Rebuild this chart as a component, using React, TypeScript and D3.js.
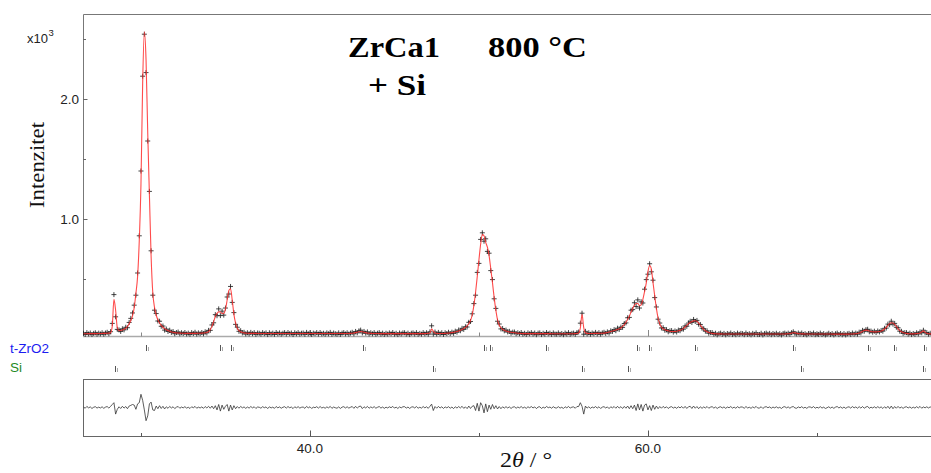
import React from "react";
import * as d3 from "d3";

// Powder pattern on a uniform 2θ grid (start + step), intensities in counts
const twoThetaStart = 26.6;
const twoThetaStep = 0.1;

// calculated profile (red line), one value per 0.1° starting at 26.6°
const yCalc: number[] = [
  44, 44, 44, 45, 45, 45, 45, 45, 45, 46,
  46, 46, 47, 47, 48, 49, 52, 105, 330, 240,
  95, 70, 71, 75, 81, 90, 104, 126, 154, 192,
  262, 380, 520, 820, 1290, 2130, 2560, 2330, 1720, 1200,
  690, 385, 265, 200, 160, 133, 114, 98, 86, 77,
  70, 64, 59, 56, 53, 51, 50, 49, 48, 48,
  47, 47, 47, 47, 47, 47, 47, 47, 48, 48,
  49, 50, 52, 55, 62, 78, 105, 145, 188, 214,
  226, 225, 212, 214, 248, 325, 405, 418, 325, 205,
  132, 90, 70, 60, 54, 51, 49, 48, 47, 47,
  47, 47, 47, 46, 46, 46, 46, 46, 46, 46,
  46, 46, 46, 46, 46, 46, 46, 46, 46, 46,
  46, 46, 46, 46, 46, 46, 46, 46, 46, 46,
  46, 46, 46, 46, 46, 46, 46, 46, 46, 46,
  46, 46, 46, 46, 46, 46, 46, 46, 46, 46,
  46, 46, 46, 46, 46, 46, 46, 46, 47, 48,
  50, 53, 57, 60, 62, 60, 57, 53, 50, 48,
  47, 46, 46, 46, 46, 45, 45, 45, 45, 45,
  45, 45, 45, 45, 45, 45, 45, 45, 45, 45,
  45, 45, 45, 45, 45, 45, 45, 45, 45, 45,
  45, 45, 45, 46, 47, 50, 82, 66, 50, 47,
  46, 46, 46, 46, 47, 48, 49, 51, 53, 56,
  59, 62, 67, 73, 79, 87, 97, 109, 127, 154,
  200, 280, 390, 520, 660, 790, 870, 860, 805, 765,
  695, 585, 470, 345, 240, 160, 117, 94, 81, 73,
  67, 63, 59, 56, 54, 52, 50, 48, 47, 46,
  45, 45, 45, 45, 45, 45, 45, 45, 45, 45,
  45, 45, 45, 45, 45, 45, 45, 44, 44, 44,
  44, 44, 44, 44, 44, 44, 44, 44, 44, 44,
  44, 45, 46, 50, 92, 205, 95, 52, 47, 46,
  46, 46, 46, 47, 47, 47, 48, 48, 49, 51,
  54, 58, 62, 66, 70, 75, 80, 85, 92, 105,
  120, 140, 165, 190, 225, 255, 282, 296, 296, 278,
  285, 330, 395, 465, 560, 612, 585, 470, 360, 255,
  175, 125, 98, 85, 77, 72, 68, 65, 63, 62,
  63, 65, 68, 72, 78, 88, 100, 114, 127, 138,
  146, 151, 152, 147, 133, 115, 97, 81, 69, 60,
  54, 50, 47, 45, 44, 43, 43, 43, 42, 42,
  42, 42, 42, 42, 42, 42, 42, 42, 42, 42,
  42, 42, 42, 42, 42, 42, 42, 42, 42, 42,
  42, 42, 42, 42, 42, 42, 42, 42, 42, 42,
  42, 42, 42, 42, 42, 42, 43, 44, 46, 49,
  52, 51, 48, 45, 44, 43, 43, 42, 42, 42,
  42, 42, 42, 42, 42, 42, 42, 42, 42, 42,
  42, 42, 42, 41, 41, 41, 41, 41, 41, 41,
  41, 41, 41, 41, 42, 42, 43, 44, 46, 50,
  56, 64, 71, 74, 72, 67, 63, 60, 59, 59,
  60, 62, 66, 73, 83, 97, 114, 128, 136, 134,
  122, 104, 85, 70, 60, 54, 50, 47, 45, 44,
  43, 43, 44, 45, 46, 50, 58, 68, 55, 47,
  44, 43, 43,
];

// difference curve (observed - calculated), same grid
const yDiff: number[] = [
  4, -6, 9, -3, 5, -8, 2, 7, -5, 3,
  -4, 6, -7, 3, 8, -5, 9, 25, 40, -55,
  -15, 6, -8, 10, -5, 8, -10, 12, 18, 25,
  20, -15, 30, 40, 110, 60, -20, -110, -70, 30,
  45, -20, -25, 12, -10, 15, -8, 10, -12, 6,
  -7, 9, -4, 6, -9, 3, 8, -6, 4, -3,
  7, -5, 2, -8, 6, -2, 9, -6, 3, -4,
  5, -7, 8, -4, 10, -6, 12, -10, 15, -20,
  25, -30, 20, -15, 10, 25, -30, 20, -20, 15,
  -10, 8, -6, 9, -3, 5, -7, 4, -5, 8,
  -3, 6, -8, 4, 2, -6, 7, -2, 5, -9,
  6, -4, 3, -7, 8, -3, 5, -6, 2, 7,
  -5, 8, -2, 4, -9, 6, -3, 7, -5, 2,
  4, -7, 9, -3, 6, -8, 3, -2, 7, -5,
  8, -4, 2, -6, 5, -3, 9, -7, 4, -2,
  -6, 5, -8, 3, 7, -4, 6, -5, 2, 8,
  -7, 10, -5, 8, 12, -9, 6, -4, 9, -6,
  5, -3, 7, -6, 2, 8, -5, 4, -7, 3,
  -4, 6, -2, 9, -5, 3, -8, 5, -3, 6,
  7, -5, 4, -8, 3, 6, -4, 8, -6, 2,
  -5, 8, -3, 6, -7, 10, 28, -25, 8, -6,
  9, -4, 6, -8, 5, -3, 7, -6, 4, -9,
  6, -5, 8, -4, 10, -7, 5, -9, 12, -8,
  10, 15, -25, 35, -30, 40, 15, -45, 30, -35,
  20, -15, 25, -10, 15, -12, 8, -10, 6, -5,
  7, -4, 5, -8, 3, 6, -6, 4, -3, 8,
  -5, 3, -7, 6, -2, 8, -4, 5, -9, 4,
  6, -8, 3, -5, 9, -2, 4, -6, 7, -3,
  -4, 7, -5, 2, -8, 6, -3, 9, -5, 3,
  5, -6, 8, 8, 40, 10, -55, 12, -5, 6,
  -7, 4, -3, 8, -5, 6, -8, 3, 7, -4,
  5, -9, 6, -3, 8, -6, 10, -5, 7, -8,
  9, -6, 12, -10, 15, -10, 20, -25, 30, -20,
  25, -30, 20, 30, -20, 15, -25, 20, -15, 12,
  -10, 8, -6, 9, -4, 6, -8, 3, 7, -5,
  4, -7, 6, -3, 8, -6, 9, -8, 6, 10,
  -8, 12, -6, 8, -10, 6, -7, 5, -4, 8,
  -6, 3, 7, -5, 4, -8, 2, 6, -4, 5,
  -7, 4, -2, 8, -5, 3, -6, 7, -3, 5,
  3, -6, 8, -4, 2, -7, 5, -3, 9, -5,
  -4, 6, -8, 3, 7, -2, 5, -6, 4, -3,
  6, -5, 2, -8, 4, 7, -3, 5, -6, 4,
  8, -4, -6, 5, -3, 7, -5, 2, -7, 4,
  5, -3, 8, -6, 2, -4, 7, -5, 3, -8,
  -2, 6, -5, 4, -7, 3, 8, -4, 5, -6,
  4, -7, 2, 6, -5, 8, -3, 5, -6, 7,
  -5, 8, -6, 4, 9, -7, 3, -4, 6, -5,
  7, -3, 5, -8, 6, -6, 10, -9, 12, -10,
  8, -6, 9, -5, 4, -7, 3, 6, -4, 5,
  -6, 3, -5, 7, -4, 9, -6, 5, -3, 6,
  -4, 5, -2,
];

// reflection positions (2θ, degrees)
const tZrO2Reflections = [30.3, 34.68, 35.32, 43.12, 50.27, 50.67, 53.96, 59.37, 60.08, 62.81, 68.59, 73.03, 74.54, 76.36];
const siReflections = [28.46, 47.3, 56.1, 58.84, 69.05, 76.3];
const phaseNames = ["t-ZrO2", "Si"];

const xMinorTicks = [30, 50, 70];
const xMajorTicks = [40, 60];
const xTickLabels = ["40.0", "60.0"];
const yMinorTicks = [500, 1500, 2500];
const yMajorTicks = [1000, 2000];
const yTickLabels = ["1.0", "2.0"];

const titleLine1 = ["ZrCa1", "800 °C"];
const titleLine2 = "+ Si";
const yAxisTitle = "Intenzitet";

export default function App() {
  const W = 931, H = 473;
  const L = 83, R = 931;
  const mainTop = 14.5, mainBottom = 336.5;
  const diffTop = 379.5, diffBottom = 436.5, diffZero = 407.5;
  const serif = "'Liberation Serif', 'Times New Roman', serif";
  const sans = "'Liberation Sans', Arial, sans-serif";

  const x = d3.scaleLinear().domain([26.57, 76.75]).range([L, R]);
  const y = d3.scaleLinear().domain([0, 2700]).range([339, 15]);
  const yd = d3.scaleLinear().domain([-250, 250]).range([diffZero + 30, diffZero - 30]);

  const pts = yCalc.map((c, i) => {
    const t = +(twoThetaStart + i * twoThetaStep).toFixed(2);
    const d = yDiff[i] ?? 0;
    return { t, calc: c, obs: c + d, diff: d };
  });

  const calcPath = d3.line<any>().x((d) => x(d.t)).y((d) => y(d.calc)).curve(d3.curveMonotoneX)(pts) || "";
  const diffPath = d3.line<any>().x((d) => x(d.t)).y((d) => yd(d.diff))(pts) || "";
  const s = 2.5;
  const obsPath = pts
    .map((d) => {
      const px = x(d.t), py = y(d.obs);
      return `M${(px - s).toFixed(2)},${py.toFixed(2)}h${2 * s}M${px.toFixed(2)},${(py - s).toFixed(2)}v${2 * s}`;
    })
    .join("");

  const phaseRows = [
    { name: phaseNames[0], refl: tZrO2Reflections, color: "#1c1cf0", labelY: 353, tickY: 345 },
    { name: phaseNames[1], refl: siReflections, color: "#1f8a1f", labelY: 372, tickY: 366 },
  ];

  return (
    <svg width={W} height={H} style={{ position: "absolute", left: 0, top: 0, background: "#fff" }}>
      <defs>
        <clipPath id="mainClip">
          <rect x={L} y={0} width={R - L} height={mainBottom + 3} />
        </clipPath>
        <clipPath id="diffClip">
          <rect x={L} y={diffTop} width={R - L} height={diffBottom - diffTop} />
        </clipPath>
      </defs>

      {/* main frame */}
      <line x1={L + 0.5} x2={R} y1={mainTop} y2={mainTop} stroke="#777" strokeWidth={1} />
      <line x1={L + 0.5} x2={L + 0.5} y1={mainTop} y2={mainBottom} stroke="#777" strokeWidth={1} />
      <line x1={L} x2={R} y1={mainBottom} y2={mainBottom} stroke="#aaa" strokeWidth={1.5} />

      {/* y ticks */}
      {yMinorTicks.map((v) => (
        <line key={"ym" + v} x1={L} x2={L + 3} y1={Math.round(y(v)) + 0.5} y2={Math.round(y(v)) + 0.5} stroke="#666" />
      ))}
      {yMajorTicks.map((v, i) => (
        <g key={"yM" + v}>
          <line x1={L} x2={L + 4.5} y1={Math.round(y(v)) + 0.5} y2={Math.round(y(v)) + 0.5} stroke="#666" />
          <text x={79} y={y(v) + 5} textAnchor="end" fontFamily={sans} fontSize={13.5} fill="#222">
            {yTickLabels[i]}
          </text>
        </g>
      ))}
      <text x={27} y={43} fontFamily={sans} fontSize={13} fill="#222">
        x10
      </text>
      <text x={48.5} y={36} fontFamily={sans} fontSize={9.5} fill="#222">
        3
      </text>

      {/* main x ticks */}
      {xMinorTicks.map((v) => (
        <line key={"mxm" + v} x1={Math.round(x(v)) + 0.5} x2={Math.round(x(v)) + 0.5} y1={mainBottom} y2={mainBottom - 4} stroke="#888" />
      ))}
      {xMajorTicks.map((v) => (
        <line key={"mxM" + v} x1={Math.round(x(v)) + 0.5} x2={Math.round(x(v)) + 0.5} y1={mainBottom} y2={mainBottom - 6.5} stroke="#888" />
      ))}

      {/* data */}
      <g clipPath="url(#mainClip)">
        <path d={obsPath} fill="none" stroke="#1a1a1a" strokeWidth={0.9} opacity={0.9} />
        <path d={calcPath} fill="none" stroke="#ff2b2b" strokeWidth={1.1} opacity={0.85} />
      </g>

      {/* titles */}
      <text x={348} y={57} fontFamily={serif} fontWeight="bold" fontSize={29} textLength={92} lengthAdjust="spacingAndGlyphs" fill="#000">
        {titleLine1[0]}
      </text>
      <text x={488} y={57} fontFamily={serif} fontWeight="bold" fontSize={29} textLength={99} lengthAdjust="spacingAndGlyphs" fill="#000">
        {titleLine1[1]}
      </text>
      <text x={368} y={95} fontFamily={serif} fontWeight="bold" fontSize={29} textLength={58} lengthAdjust="spacingAndGlyphs" fill="#000">
        {titleLine2}
      </text>

      <text
        transform="translate(43.5,165) rotate(-90)"
        textAnchor="middle"
        fontFamily={serif}
        fontSize={21}
        textLength={86}
        lengthAdjust="spacingAndGlyphs"
        fill="#111"
      >
        {yAxisTitle}
      </text>

      {/* phase reflection rows */}
      {phaseRows.map((p) => (
        <g key={p.name}>
          <text x={10} y={p.labelY} fontFamily={sans} fontSize={13.5} fill={p.color}>
            {p.name}
          </text>
          {p.refl.map((r) => {
            const px = Math.round(x(r)) + 0.5;
            return (
              <g key={p.name + r}>
                <line x1={px} x2={px} y1={p.tickY} y2={p.tickY + 6} stroke="#555" strokeWidth={1} />
                <line x1={px + 2} x2={px + 2} y1={p.tickY + 2} y2={p.tickY + 6} stroke="#aaa" strokeWidth={1} />
              </g>
            );
          })}
        </g>
      ))}

      {/* difference panel */}
      <line x1={L} x2={R} y1={diffTop} y2={diffTop} stroke="#666" />
      <line x1={L} x2={R} y1={diffBottom} y2={diffBottom} stroke="#666" />
      <line x1={L + 0.5} x2={L + 0.5} y1={diffTop} y2={diffBottom} stroke="#666" />
      <g clipPath="url(#diffClip)">
        <path d={diffPath} fill="none" stroke="#333" strokeWidth={0.8} />
      </g>
      {xMinorTicks.map((v) => (
        <line key={"dxm" + v} x1={Math.round(x(v)) + 0.5} x2={Math.round(x(v)) + 0.5} y1={diffBottom} y2={diffBottom - 3.5} stroke="#555" />
      ))}
      {xMajorTicks.map((v, i) => (
        <g key={"dxM" + v}>
          <line x1={Math.round(x(v)) + 0.5} x2={Math.round(x(v)) + 0.5} y1={diffBottom} y2={diffBottom - 6} stroke="#555" />
          <text x={x(v)} y={453} textAnchor="middle" fontFamily={sans} fontSize={13.5} fill="#222">
            {xTickLabels[i]}
          </text>
        </g>
      ))}

      {/* x axis title */}
      <text x={500} y={467} fontFamily={serif} fontSize={21} textLength={52} lengthAdjust="spacingAndGlyphs" fill="#111">
        <tspan>2</tspan>
        <tspan fontStyle="italic">θ</tspan>
        <tspan> / °</tspan>
      </text>
    </svg>
  );
}
